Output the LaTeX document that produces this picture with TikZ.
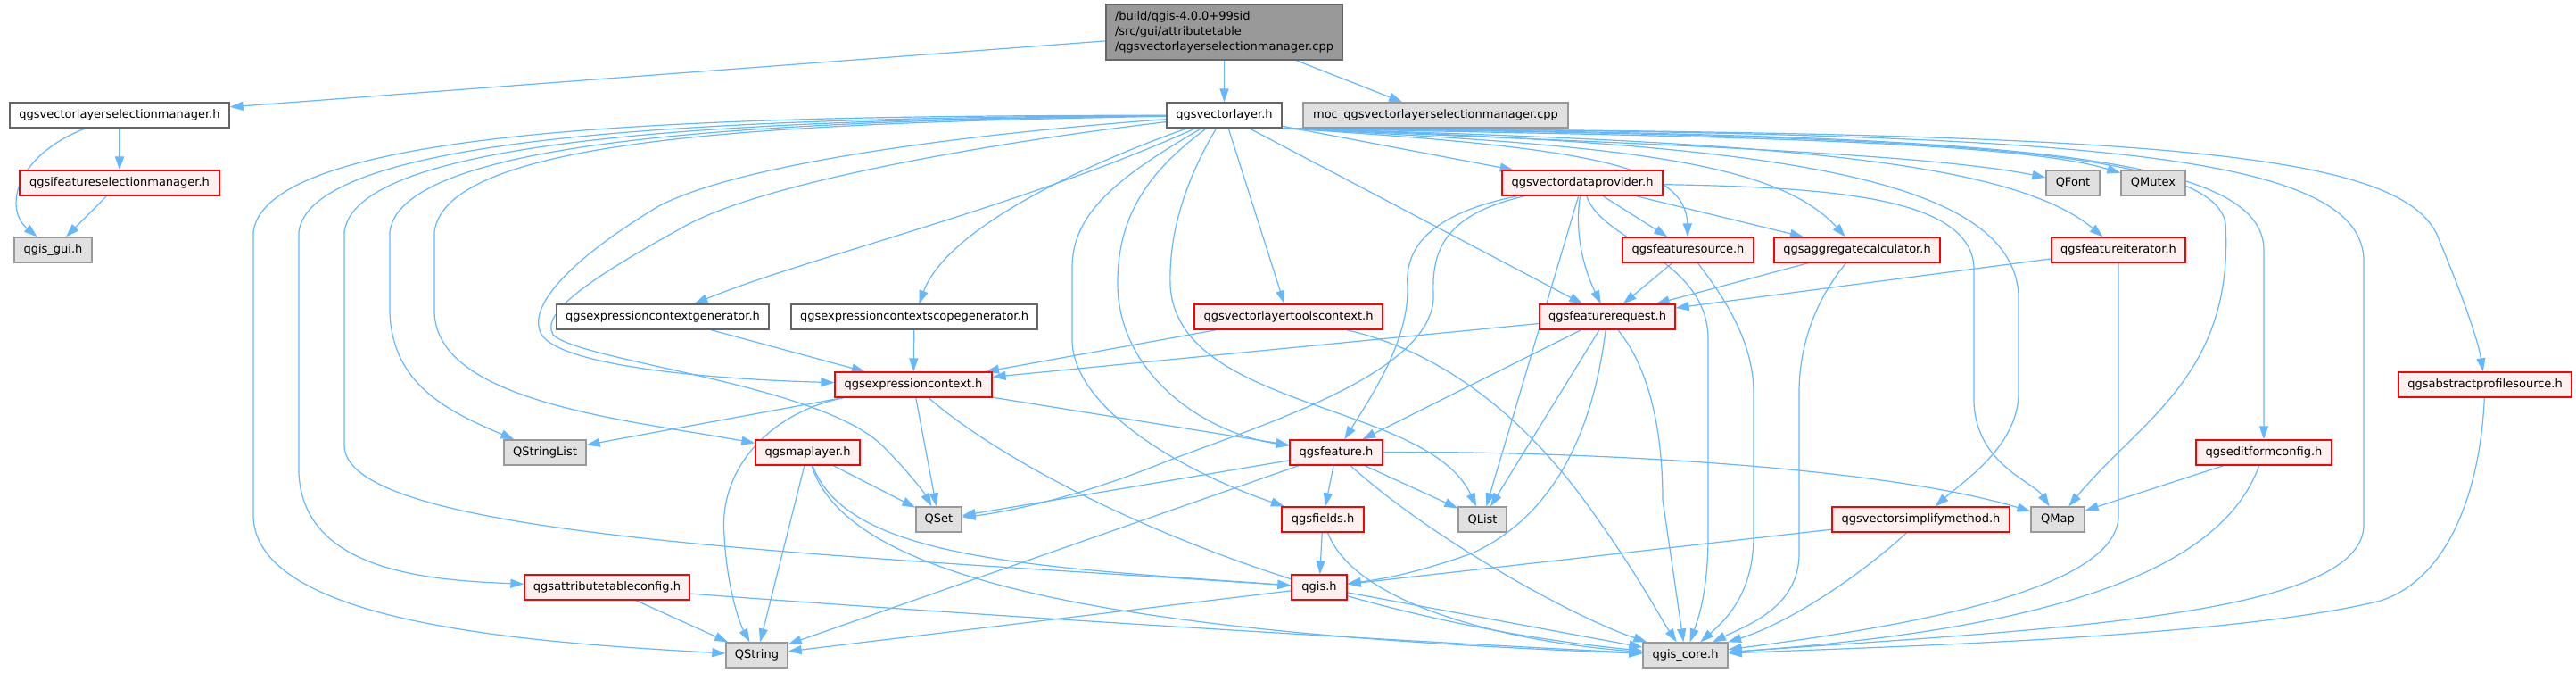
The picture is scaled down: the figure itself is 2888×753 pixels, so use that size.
\documentclass[tikz,border=0pt]{standalone}
\usepackage{fontspec}
\newfontfamily\dvs{DejaVu Sans}
\usetikzlibrary{arrows.meta}
\definecolor{edgec}{HTML}{63B8FF}
\definecolor{redfill}{HTML}{FFF0F0}
\definecolor{grayfill}{HTML}{E0E0E0}
\definecolor{grayb}{HTML}{999999}
\definecolor{darkb}{HTML}{666666}
\definecolor{rootfill}{HTML}{999999}
\pgfdeclarelayer{bg}
\pgfsetlayers{bg,main}
\begin{document}
\begin{tikzpicture}[x=1pt,y=-1pt,
 box/.style={rectangle, line width=1.3pt, minimum height=28pt, inner sep=0pt, font=\dvs\fontsize{13}{16}\selectfont, text=black},
 wbox/.style={box, draw=darkb, fill=white},
 rbox/.style={box, draw=red, fill=redfill},
 gbox/.style={box, draw=grayb, fill=grayfill},
 e/.style={draw=edgec, line width=1.2pt, -{Triangle[length=15pt,width=10pt]}}
]
\useasboundingbox (0,0) rectangle (2888,753);
% nodes
\node[box, draw=darkb, fill=rootfill, minimum width=265pt, minimum height=62pt, align=left, font=\dvs\fontsize{13}{17}\selectfont] (root) at (1372.5,36) {/build/qgis-4.0.0+99sid\\/src/gui/attributetable\\/qgsvectorlayerselectionmanager.cpp};
\node[wbox, minimum width=246pt] (vlsm) at (134,129) {qgsvectorlayerselectionmanager.h};
\node[wbox, minimum width=129pt] (vl) at (1372.5,129) {qgsvectorlayer.h};
\node[gbox, minimum width=297pt] (moc) at (1609.5,129) {moc\_qgsvectorlayerselectionmanager.cpp};
\node[rbox, minimum width=224pt] (ifsm) at (134,205) {qgsifeatureselectionmanager.h};
\node[rbox, minimum width=180pt] (vdp) at (1774,205) {qgsvectordataprovider.h};
\node[gbox, minimum width=60pt] (qfont) at (2324,205) {QFont};
\node[gbox, minimum width=72pt] (qmutex) at (2414,205) {QMutex};
\node[gbox, minimum width=87pt] (qgisgui) at (59.5,280) {qgis\_gui.h};
\node[rbox, minimum width=147pt] (fsrc) at (1892.5,280) {qgsfeaturesource.h};
\node[rbox, minimum width=186pt] (aggc) at (2082,280) {qgsaggregatecalculator.h};
\node[rbox, minimum width=150pt] (fit) at (2375,280) {qgsfeatureiterator.h};
\node[wbox, minimum width=238pt] (ecg) at (743,355) {qgsexpressioncontextgenerator.h};
\node[wbox, minimum width=276pt] (ecsg) at (1025,355) {qgsexpressioncontextscopegenerator.h};
\node[rbox, minimum width=211pt] (vltc) at (1444.5,355) {qgsvectorlayertoolscontext.h};
\node[rbox, minimum width=152pt] (freq) at (1802,355) {qgsfeaturerequest.h};
\node[rbox, minimum width=176pt] (ec) at (1024,431) {qgsexpressioncontext.h};
\node[rbox, minimum width=194pt] (aps) at (2786,431) {qgsabstractprofilesource.h};
\node[gbox, minimum width=92pt] (qsl) at (611,507) {QStringList};
\node[rbox, minimum width=117pt] (ml) at (905.5,507) {qgsmaplayer.h};
\node[rbox, minimum width=104pt] (feat) at (1498,507) {qgsfeature.h};
\node[rbox, minimum width=152pt] (efc) at (2538,507) {qgseditformconfig.h};
\node[gbox, minimum width=51pt] (qset) at (1052.5,582) {QSet};
\node[rbox, minimum width=92pt] (fields) at (1483,582) {qgsfields.h};
\node[gbox, minimum width=54pt] (qlist) at (1662,582) {QList};
\node[rbox, minimum width=199pt] (vsm) at (2153.5,582) {qgsvectorsimplifymethod.h};
\node[gbox, minimum width=60pt] (qmap) at (2307,582) {QMap};
\node[rbox, minimum width=185pt] (atc) at (680.5,658) {qgsattributetableconfig.h};
\node[rbox, minimum width=62pt] (qgis) at (1479,658) {qgis.h};
\node[gbox, minimum width=69pt] (qstring) at (848.5,734) {QString};
\node[gbox, minimum width=95pt] (core) at (1889.5,734) {qgis\_core.h};
\begin{pgfonlayer}{bg}
\fill[white] (0,0) rectangle (2888,753);
% root
\draw[e] (root) -- (vlsm);
\draw[e] (root) -- (vl);
\draw[e] (root) -- (moc);
% selection manager
\draw[e] (vlsm) .. controls (15,175) and (5,235) .. (qgisgui);
\draw[e] (vlsm) -- (ifsm);
\draw[e] (ifsm) -- (qgisgui);
% qgsvectorlayer.h, to the right
\draw[e] (vl) -- (vdp);
\draw[e] (vl.south east) .. controls (1800,160) and (2150,170) .. (qfont);
\draw[e] (vl.south east) .. controls (1850,152) and (2250,155) .. (qmutex);
\draw[e] (vl.south east) .. controls (1780,165) and (1890,185) .. (fsrc);
\draw[e] (vl.south east) .. controls (1800,162) and (1990,178) .. (aggc);
\draw[e] (vl.south east) .. controls (1950,158) and (2250,175) .. (fit);
\draw[e] (vl.south east) .. controls (2100,152) and (2480,160) .. (2495,250) .. controls (2505,420) and (2400,470) .. (qmap);
\draw[e] (vl.south east) .. controls (2200,150) and (2538,165) .. (2538,280) -- (efc);
\draw[e] (vl.south east) .. controls (2300,148) and (2645,165) .. (2650,290) -- (2650,590) .. controls (2645,690) and (2300,705) .. (core);
\draw[e] (vl.south east) .. controls (2400,148) and (2700,165) .. (2735,270) .. controls (2760,330) and (2778,380) .. (aps);
\draw[e] (vl.south east) .. controls (1950,160) and (2255,190) .. (2263,330) -- (2263,440) .. controls (2263,500) and (2200,540) .. (vsm);
% qgsvectorlayer.h, downwards and to the left
\draw[e] (vl) .. controls (1150,230) and (900,290) .. (ecg);
\draw[e] (vl) .. controls (1200,190) and (1060,260) .. (ecsg);
\draw[e] (vl) -- (vltc);
\draw[e] (vl) -- (freq);
\draw[e] (vl) .. controls (1250,200) and (1202,240) .. (1202,300) -- (1202,383) .. controls (1205,460) and (1330,530) .. (fields);
\draw[e] (vl) .. controls (1290,190) and (1252,240) .. (1253,320) .. controls (1255,420) and (1350,485) .. (feat);
\draw[e] (vl) .. controls (1330,200) and (1310,260) .. (1312,320) .. controls (1320,460) and (1600,450) .. (qlist);
\draw[e] (vl) .. controls (1150,145) and (850,175) .. (740,230) .. controls (640,290) and (595,340) .. (605,370) .. controls (615,410) and (800,425) .. (ec);
\draw[e] (vl) .. controls (1150,155) and (860,200) .. (765,255) .. controls (665,310) and (605,350) .. (620,375) .. controls (650,405) and (920,430) .. (990,500) .. controls (1015,525) and (1035,550) .. (qset);
\draw[e] (vl) .. controls (900,135) and (450,150) .. (437,260) -- (437,350) .. controls (440,430) and (500,460) .. (qsl);
\draw[e] (vl) .. controls (900,138) and (500,150) .. (487,260) -- (487,350) .. controls (490,450) and (700,470) .. (ml);
\draw[e] (vl) .. controls (900,134) and (400,145) .. (386,260) -- (386,500) .. controls (390,600) and (900,620) .. (qgis);
\draw[e] (vl) .. controls (900,132) and (350,140) .. (335,260) -- (335,530) .. controls (340,640) and (480,650) .. (atc);
\draw[e] (vl) .. controls (850,130) and (300,135) .. (284,260) -- (284,580) .. controls (290,700) and (600,720) .. (qstring);
% qgsvectordataprovider.h
\draw[e] (vdp) -- (fsrc);
\draw[e] (vdp) -- (aggc);
\draw[e] (vdp) .. controls (1765,260) and (1775,300) .. (freq);
\draw[e] (vdp) .. controls (1600,240) and (1575,280) .. (1578,320) .. controls (1580,380) and (1540,440) .. (feat);
\draw[e] (vdp) .. controls (1620,240) and (1605,280) .. (1607,330) .. controls (1610,420) and (1400,480) .. (1300,520) .. controls (1200,560) and (1120,575) .. (qset);
\draw[e] (vdp) -- (qlist);
\draw[e] (vdp) .. controls (2050,210) and (2210,220) .. (2213,300) -- (2213,450) .. controls (2215,520) and (2280,540) .. (qmap);
\draw[e] (vdp) .. controls (1795,270) and (1915,290) .. (1915,380) -- (1915,600) .. controls (1915,660) and (1905,690) .. (core);
% feature source, aggregate calculator, iterator
\draw[e] (fsrc) -- (freq);
\draw[e] (fsrc) .. controls (1930,330) and (1966,380) .. (1966,440) -- (1966,600) .. controls (1966,660) and (1940,690) .. (core);
\draw[e] (aggc) -- (freq);
\draw[e] (aggc) .. controls (2040,330) and (2017,380) .. (2017,440) -- (2017,620) .. controls (2017,680) and (1960,700) .. (core);
\draw[e] (fit) -- (freq);
\draw[e] (fit) -- (2375,580) .. controls (2370,660) and (2150,700) .. (core);
% generators, tools context
\draw[e] (ecg) -- (ec);
\draw[e] (ecsg) -- (ec);
\draw[e] (vltc) -- (ec);
\draw[e] (vltc) .. controls (1600,390) and (1700,450) .. (1790,580) .. controls (1840,650) and (1860,690) .. (core);
% feature request
\draw[e] (freq) -- (ec);
\draw[e] (freq) -- (feat);
\draw[e] (freq) -- (qlist);
\draw[e] (freq) .. controls (1790,450) and (1760,570) .. (1650,620) .. controls (1580,645) and (1540,650) .. (qgis);
\draw[e] (freq) .. controls (1855,420) and (1864,500) .. (1864,560) -- (core);
% expression context
\draw[e] (ec) -- (qsl);
\draw[e] (ec) -- (qset);
\draw[e] (ec) -- (feat);
\draw[e] (ec) .. controls (870,460) and (805,520) .. (812,600) .. controls (815,660) and (830,700) .. (qstring);
\draw[e] (ec) .. controls (1150,540) and (1450,690) .. (core);
% profile source, edit form config
\draw[e] (aps) .. controls (2780,560) and (2740,650) .. (2669,673) .. controls (2500,715) and (2100,725) .. (core);
\draw[e] (efc) -- (qmap);
\draw[e] (efc) .. controls (2490,640) and (2300,705) .. (core);
% map layer
\draw[e] (ml) -- (qstring);
\draw[e] (ml) -- (qset);
\draw[e] (ml) .. controls (950,625) and (1150,635) .. (qgis);
\draw[e] (ml) .. controls (950,650) and (1250,710) .. (core);
% feature
\draw[e] (feat) -- (qset);
\draw[e] (feat) -- (qlist);
\draw[e] (feat) .. controls (1750,505) and (2100,520) .. (qmap);
\draw[e] (feat) -- (fields);
\draw[e] (feat) -- (qstring);
\draw[e] (feat) .. controls (1600,600) and (1760,690) .. (core);
% fields, simplify method, attribute table config, qgis
\draw[e] (fields) -- (qgis);
\draw[e] (fields) .. controls (1520,680) and (1700,720) .. (core);
\draw[e] (vsm) -- (qgis);
\draw[e] (vsm) .. controls (2080,650) and (2000,700) .. (core);
\draw[e] (atc) -- (qstring);
\draw[e] (atc) .. controls (1100,690) and (1600,720) .. (core);
\draw[e] (qgis) -- (qstring);
\draw[e] (qgis) -- (core);
\end{pgfonlayer}
\end{tikzpicture}
\end{document}
